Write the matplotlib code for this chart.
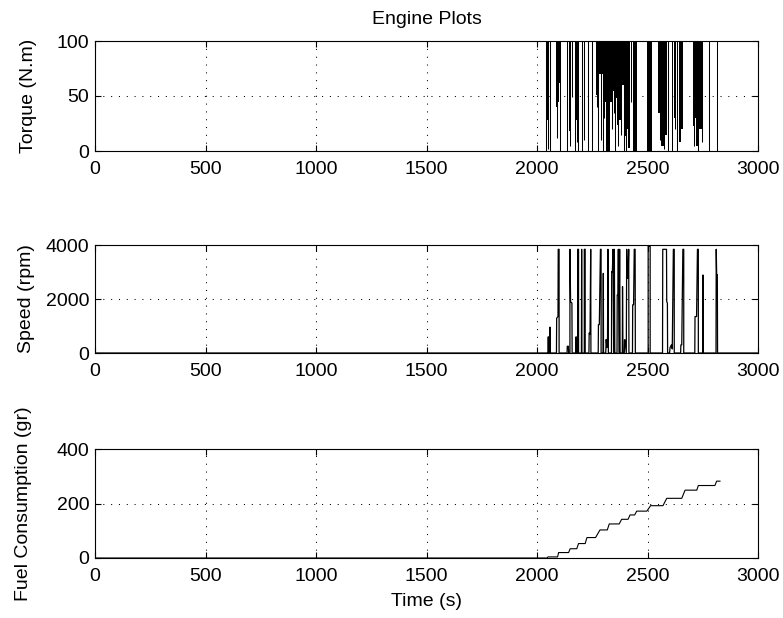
import numpy as np
import matplotlib
matplotlib.use('Agg')
import matplotlib.pyplot as plt

plt.rcParams['font.family'] = ['Liberation Sans', 'DejaVu Sans']
plt.rcParams['font.size'] = 14

# torque: vertical strokes hanging from 100 down to a low value
torque_line_t = [2041, 2049, 2059, 2092, 2104, 2137, 2150, 2158, 2170, 2181,
                 2186, 2202, 2212, 2232, 2248, 2270, 2278, 2290, 2300, 2305,
                 2340, 2347, 2353, 2368, 2378, 2395, 2403, 2424, 2555, 2574,
                 2580, 2594, 2625, 2635, 2650, 2712, 2728, 2745, 2780, 2813]
torque_line_lo = [0, 2, 0, 12, 0, 0, 5, 49, 0, 8,
                  0, 0, 10, 0, 0, 40, 0, 10, 0, 30,
                  20, 35, 0, 5, 15, 0, 0, 45, 10, 2,
                  30, 0, 20, 0, 28, 5, 0, 8, 0, 0]
# torque: dense (chattering) regions, filled from low value up to 100
torque_blk_t0 = [2043, 2048, 2086, 2092, 2098, 2146, 2151, 2177, 2183,
                 2267, 2274, 2282, 2300, 2306, 2312, 2330, 2340, 2350, 2360,
                 2372, 2385, 2398, 2406, 2413, 2436, 2499, 2549, 2556, 2562,
                 2575, 2609, 2620, 2644, 2652, 2707, 2714, 2720, 2735, 2745]
torque_blk_t1 = [2048, 2053, 2092, 2098, 2106, 2151, 2156, 2183, 2190,
                 2274, 2282, 2300, 2306, 2312, 2330, 2340, 2350, 2360, 2372,
                 2385, 2393, 2406, 2413, 2420, 2454, 2519, 2556, 2562, 2575,
                 2587, 2617, 2630, 2652, 2660, 2714, 2720, 2735, 2745, 2753]
torque_blk_lo = [28, 35, 40, 45, 62, 18, 30, 28, 40,
                 51, 58, 70, 55, 45, 0, 45, 55, 48, 24,
                 28, 60, 14, 20, 3, 0, 0, 35, 45, 5,
                 15, 0, 30, 8, 20, 23, 30, 5, 20, 10]

# engine speed (rpm)
speed_t = [0, 2050, 2051, 2052, 2058, 2059, 2060, 2088, 2089, 2095, 2096, 2100, 2100,
           2136, 2137, 2142, 2143, 2149, 2149, 2152, 2158, 2159,
           2176, 2177, 2178, 2184, 2184, 2188, 2188, 2201, 2202, 2203,
           2214, 2214, 2218, 2218, 2235, 2236, 2240, 2243, 2244,
           2277, 2278, 2282, 2287, 2290, 2290, 2299, 2300, 2301,
           2311, 2313, 2316, 2319, 2321, 2323, 2337, 2338, 2341, 2344, 2347,
           2350, 2352, 2362, 2363, 2366, 2368, 2371, 2374, 2376, 2386, 2387, 2389,
           2395, 2396, 2398, 2404, 2406, 2408, 2412, 2415, 2416,
           2432, 2433, 2437, 2440, 2444, 2445,
           2503, 2503, 2512, 2512,
           2568, 2569, 2586, 2587, 2590, 2591,
           2600, 2602, 2608, 2612, 2617, 2621, 2621,
           2650, 2651, 2655, 2660, 2664, 2664,
           2714, 2715, 2722, 2726, 2730, 2730, 2750, 2751, 2752,
           2810, 2811, 2813, 2816, 2817, 3000]
speed_v = [0, 0, 600, 0, 0, 960, 0, 0, 1290, 1350, 3840, 3840, 0,
           0, 250, 250, 0, 0, 3840, 1900, 1850, 0,
           0, 600, 0, 0, 3840, 3840, 0, 0, 3840, 0,
           0, 3840, 3840, 0, 0, 740, 700, 3840, 0,
           0, 1050, 1050, 3840, 3840, 0, 0, 2950, 0,
           0, 500, 200, 450, 3840, 0, 0, 3015, 3000, 3840, 0,
           3840, 0, 0, 2150, 2150, 3840, 0, 3840, 0, 0, 2460, 0,
           0, 490, 490, 0, 3840, 2770, 2770, 3840, 0,
           0, 1785, 1785, 3840, 3840, 0,
           0, 3950, 3950, 0,
           0, 3840, 3840, 1900, 1850, 0,
           0, 200, 300, 150, 3840, 3840, 0,
           0, 300, 300, 3840, 3840, 0,
           0, 1350, 1350, 3840, 3840, 0, 0, 2890, 0,
           0, 3840, 2900, 2900, 0, 0]

# cumulative fuel consumption (gr)
fuel_t = [0, 2045, 2050, 2093, 2098, 2143, 2150, 2180, 2188, 2218, 2226, 2265,
          2285, 2318, 2327, 2372, 2383, 2412, 2421, 2442, 2451, 2497, 2514,
          2570, 2587, 2655, 2670, 2723, 2730, 2805, 2813, 2828]
fuel_v = [0, 0, 4, 4, 20, 20, 34, 34, 53, 53, 75, 75,
          103, 103, 125, 125, 142, 142, 158, 158, 172, 172, 192,
          192, 219, 219, 249, 249, 266, 266, 282, 282]


def style_ax(ax, yticks, ylim):
    ax.set_xlim(0, 3000)
    ax.set_ylim(*ylim)
    ax.set_xticks([0, 500, 1000, 1500, 2000, 2500, 3000])
    ax.set_yticks(yticks)
    ax.tick_params(direction='in', length=4.5, width=0.8, top=True, right=True,
                   pad=4, labelsize=14)
    ax.tick_params(axis='x', pad=7)
    ax.grid(True, color='k', linestyle=(0, (1, 6.5)), linewidth=0.75)
    for s in ax.spines.values():
        s.set_linewidth(0.8)


fig = plt.figure(figsize=(7.83, 6.18), dpi=100)
L, W = 95 / 783, 663 / 783
ax1 = fig.add_axes([L, 1 - 151 / 618, W, 110 / 618])
ax2 = fig.add_axes([L, 1 - 353 / 618, W, 108 / 618])
ax3 = fig.add_axes([L, 1 - 558 / 618, W, 109 / 618])

# torque
ax1.vlines(torque_line_t, torque_line_lo, 100, color='k', linewidth=0.75)
for t0, t1, lo in zip(torque_blk_t0, torque_blk_t1, torque_blk_lo):
    ax1.fill_between([t0, t1], lo, 100, color='k', linewidth=0)
style_ax(ax1, [0, 50, 100], (0, 100))
ax1.set_ylabel('Torque (N.m)')
ax1.yaxis.set_label_coords(-0.087, 0.5)
ax1.set_title('Engine Plots', fontsize=14, pad=12)

# speed
ax2.plot(speed_t, speed_v, color='k', linewidth=0.9)
style_ax(ax2, [0, 2000, 4000], (0, 4000))
ax2.set_ylabel('Speed (rpm)')
ax2.yaxis.set_label_coords(-0.090, 0.5)

# fuel
ax3.plot(fuel_t, fuel_v, color='k', linewidth=0.8)
style_ax(ax3, [0, 200, 400], (0, 400))
ax3.set_ylabel('Fuel Consumption (gr)')
ax3.yaxis.set_label_coords(-0.095, 0.5)
ax3.set_xlabel('Time (s)', labelpad=6)

plt.savefig('out.png', dpi=100)
